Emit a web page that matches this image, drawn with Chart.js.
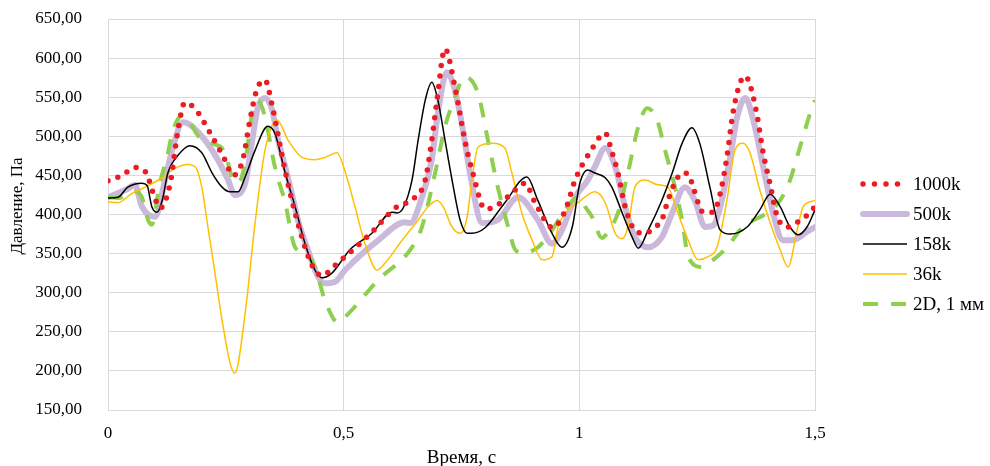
<!DOCTYPE html>
<html>
<head>
<meta charset="utf-8">
<script src="https://cdn.jsdelivr.net/npm/chart.js@4.4.1/dist/chart.umd.min.js"></script>
<style>
  html, body { margin: 0; padding: 0; background: #fff; }
</style>
</head>
<body>
<canvas id="chart" width="990" height="466"></canvas>
<script>
// series names, as in the legend
const seriesNames = ['1000k', '500k', '158k', '36k', '2D, 1 мм'];

// time, s  /  pressure, Pa
const t1000k = [0, 0.030, 0.057, 0.079, 0.100, 0.110, 0.132, 0.149, 0.163, 0.185, 0.216, 0.248, 0.265, 0.286, 0.301, 0.316, 0.333, 0.348, 0.376, 0.407, 0.433, 0.454, 0.482, 0.503, 0.556, 0.609, 0.651, 0.673, 0.687, 0.698, 0.715, 0.736, 0.757, 0.774, 0.800, 0.821, 0.853, 0.885, 0.906, 0.944, 0.970, 0.991, 1.023, 1.055, 1.069, 1.082, 1.097, 1.118, 1.139, 1.161, 1.175, 1.188, 1.203, 1.218, 1.231, 1.239, 1.252, 1.262, 1.284, 1.299, 1.313, 1.326, 1.341, 1.352, 1.362, 1.377, 1.390, 1.405, 1.419, 1.441, 1.462, 1.483, 1.500];
const p1000k = [443, 450, 460, 455, 420, 408, 440, 510, 543, 535, 505, 470, 450, 470, 520, 560, 572, 540, 455, 380, 335, 322, 335, 346, 375, 408, 422, 444, 495, 546, 612, 563, 495, 453, 407, 410, 425, 440, 415, 383, 405, 444, 480, 504, 480, 453, 410, 380, 376, 384, 393, 418, 441, 453, 452, 440, 415, 403, 403, 427, 473, 530, 568, 577, 566, 527, 479, 438, 399, 384, 390, 399, 410];

const t500k = [0, 0.042, 0.057, 0.072, 0.100, 0.121, 0.136, 0.159, 0.206, 0.233, 0.255, 0.269, 0.291, 0.306, 0.318, 0.333, 0.348, 0.361, 0.376, 0.390, 0.403, 0.424, 0.446, 0.460, 0.482, 0.503, 0.573, 0.630, 0.641, 0.666, 0.687, 0.700, 0.719, 0.736, 0.753, 0.768, 0.794, 0.827, 0.870, 0.912, 0.942, 0.963, 0.991, 1.018, 1.033, 1.055, 1.076, 1.097, 1.118, 1.146, 1.175, 1.197, 1.224, 1.245, 1.267, 1.284, 1.299, 1.320, 1.335, 1.352, 1.369, 1.390, 1.411, 1.432, 1.453, 1.483, 1.500];
const p500k = [422, 433, 438, 410, 397, 444, 482, 518, 495, 470, 444, 425, 440, 495, 537, 549, 534, 495, 461, 427, 393, 355, 320, 312, 314, 329, 367, 390, 389, 422, 470, 530, 582, 559, 508, 453, 389, 393, 422, 393, 363, 380, 422, 444, 461, 485, 461, 410, 371, 358, 371, 402, 435, 418, 384, 386, 410, 473, 525, 549, 521, 461, 402, 367, 367, 378, 384];

const t158k = [0, 0.021, 0.042, 0.072, 0.083, 0.093, 0.104, 0.115, 0.127, 0.149, 0.174, 0.199, 0.221, 0.242, 0.259, 0.276, 0.291, 0.312, 0.339, 0.354, 0.376, 0.397, 0.418, 0.439, 0.454, 0.475, 0.497, 0.513, 0.560, 0.603, 0.613, 0.626, 0.645, 0.658, 0.673, 0.687, 0.700, 0.715, 0.730, 0.747, 0.762, 0.772, 0.800, 0.842, 0.889, 0.912, 0.942, 0.963, 0.985, 1.001, 1.018, 1.033, 1.055, 1.069, 1.091, 1.112, 1.125, 1.146, 1.175, 1.197, 1.218, 1.239, 1.256, 1.277, 1.299, 1.320, 1.356, 1.383, 1.405, 1.426, 1.447, 1.464, 1.483, 1.500];
const p158k = [421, 422, 435, 440, 437, 410, 403, 418, 453, 476, 488, 479, 453, 435, 429, 429, 448, 482, 513, 504, 453, 410, 363, 329, 319, 325, 342, 355, 376, 403, 402, 408, 444, 495, 546, 569, 546, 495, 444, 393, 376, 376, 383, 415, 448, 418, 376, 358, 384, 440, 457, 453, 447, 435, 402, 371, 357, 380, 418, 453, 491, 511, 490, 435, 380, 375, 384, 406, 426, 410, 384, 374, 384, 406];

const t36k = [0, 0.021, 0.051, 0.079, 0.115, 0.142, 0.168, 0.185, 0.199, 0.212, 0.227, 0.242, 0.259, 0.269, 0.291, 0.312, 0.333, 0.359, 0.382, 0.412, 0.439, 0.460, 0.486, 0.503, 0.524, 0.545, 0.571, 0.588, 0.624, 0.658, 0.679, 0.698, 0.711, 0.730, 0.747, 0.762, 0.772, 0.785, 0.815, 0.842, 0.857, 0.878, 0.900, 0.921, 0.942, 0.955, 0.970, 0.997, 1.023, 1.033, 1.055, 1.076, 1.091, 1.103, 1.118, 1.139, 1.167, 1.188, 1.209, 1.231, 1.252, 1.273, 1.292, 1.313, 1.330, 1.347, 1.362, 1.383, 1.405, 1.426, 1.443, 1.462, 1.475, 1.500];
const p36k = [416, 415, 427, 435, 447, 459, 464, 461, 435, 384, 325, 265, 210, 197, 274, 389, 482, 521, 495, 473, 470, 473, 479, 455, 410, 363, 329, 338, 367, 393, 410, 418, 410, 384, 376, 397, 444, 486, 491, 485, 453, 402, 367, 342, 346, 384, 402, 415, 427, 429, 415, 376, 369, 384, 435, 444, 438, 435, 402, 367, 342, 346, 358, 418, 482, 491, 479, 431, 389, 355, 333, 380, 410, 418];

const t2d = [0, 0.021, 0.057, 0.072, 0.085, 0.093, 0.110, 0.125, 0.138, 0.159, 0.195, 0.221, 0.248, 0.263, 0.276, 0.291, 0.306, 0.318, 0.333, 0.354, 0.376, 0.397, 0.418, 0.439, 0.460, 0.488, 0.503, 0.573, 0.645, 0.666, 0.694, 0.715, 0.736, 0.757, 0.785, 0.806, 0.827, 0.849, 0.864, 0.881, 0.912, 0.942, 0.970, 0.997, 1.012, 1.027, 1.048, 1.061, 1.082, 1.103, 1.125, 1.144, 1.165, 1.182, 1.203, 1.218, 1.231, 1.260, 1.284, 1.313, 1.347, 1.398, 1.426, 1.447, 1.468, 1.490, 1.500];
const p2d = [422, 421, 429, 422, 393, 387, 440, 473, 508, 527, 498, 491, 479, 448, 440, 466, 530, 546, 525, 461, 415, 358, 351, 333, 291, 262, 269, 316, 358, 384, 453, 512, 550, 576, 555, 495, 435, 384, 355, 351, 358, 380, 406, 422, 410, 397, 370, 378, 402, 453, 512, 536, 521, 482, 435, 393, 346, 333, 342, 358, 384, 402, 418, 444, 486, 530, 546];

const xTickLabels = ['0', '0,5', '1', '1,5'];

function pts(ts, ps) {
  return ts.map((t, i) => ({ x: t, y: ps[i] }));
}

const serif = 'Liberation Serif';

const sideLegend = {
  id: 'sideLegend',
  afterDraw(chart) {
    const ctx = chart.ctx;
    chart.data.datasets.forEach((ds, i) => {
      const y = 184 + i * 30;
      ctx.save();
      ctx.strokeStyle = ds.borderColor;
      ctx.lineWidth = ds.borderWidth;
      ctx.lineCap = ds.borderCapStyle;
      ctx.setLineDash(ds.legendDash || ds.borderDash || []);
      ctx.beginPath();
      ctx.moveTo(863, y);
      ctx.lineTo(ds.legendEnd || 907, y);
      ctx.stroke();
      ctx.restore();
      ctx.save();
      ctx.fillStyle = '#000';
      ctx.font = '19px "' + serif + '"';
      ctx.textBaseline = 'middle';
      ctx.fillText(ds.label, 913, y + 1);
      ctx.restore();
    });
  }
};

new Chart(document.getElementById('chart'), {
  type: 'line',
  data: {
    datasets: [
      { label: seriesNames[0], data: pts(t1000k, p1000k), borderColor: '#ec1c24', borderWidth: 5.5,
        borderDash: [0, 10.5], legendDash: [0, 11.5], legendEnd: 899, borderCapStyle: 'round', order: 1 },
      { label: seriesNames[1], data: pts(t500k, p500k), borderColor: '#cbb9dc', borderWidth: 6,
        borderCapStyle: 'round', order: 5 },
      { label: seriesNames[2], data: pts(t158k, p158k), borderColor: '#000000', borderWidth: 1.5,
        borderCapStyle: 'butt', order: 2 },
      { label: seriesNames[3], data: pts(t36k, p36k), borderColor: '#ffc000', borderWidth: 1.5,
        borderCapStyle: 'butt', order: 3 },
      { label: seriesNames[4], data: pts(t2d, p2d), borderColor: '#8fcf4f', borderWidth: 4,
        borderDash: [15, 13], borderCapStyle: 'butt', order: 4 }
    ]
  },
  options: {
    responsive: false,
    animation: false,
    devicePixelRatio: 1,
    layout: { padding: { left: 0, right: 175, top: 19, bottom: 0 } },
    elements: {
      point: { radius: 0 },
      line: { cubicInterpolationMode: 'monotone', fill: false }
    },
    plugins: { legend: { display: false }, tooltip: { enabled: false } },
    scales: {
      x: {
        type: 'linear', min: 0, max: 1.5,
        afterFit: (s) => { s.height = 56; },
        grid: { color: '#d9d9d9', drawTicks: false },
        border: { color: '#d9d9d9' },
        ticks: {
          stepSize: 0.5, padding: 13, color: '#000',
          font: { family: serif, size: 17 },
          callback: (v) => xTickLabels[Math.round(v * 2)]
        },
        title: {
          display: true, text: 'Время, с', color: '#000',
          font: { family: serif, size: 19 },
          padding: { top: 0, bottom: -3.5 }
        }
      },
      y: {
        min: 150, max: 650,
        afterFit: (s) => { s.width = 108; s.paddingTop = 10; s.paddingBottom = 10; },
        grid: { color: '#d9d9d9', drawTicks: false },
        border: { color: '#d9d9d9' },
        ticks: {
          stepSize: 50, padding: 26, color: '#000',
          font: { family: serif, size: 17 },
          callback: (v) => v.toFixed(2).replace('.', ',')
        },
        title: {
          display: true, text: '\u00a0\u00a0\u00a0\u00a0Давление, Па', color: '#000',
          font: { family: serif, size: 17 },
          padding: { top: 7, bottom: 0 }
        }
      }
    }
  },
  plugins: [sideLegend]
});
</script>
</body>
</html>
